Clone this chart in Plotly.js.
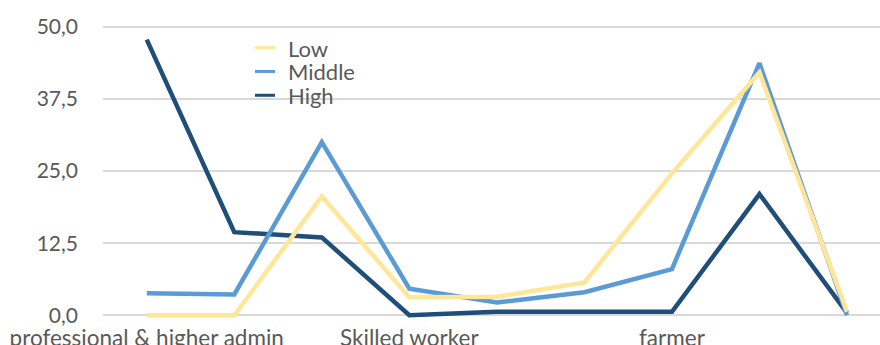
<!DOCTYPE html>
<html>
<head>
<meta charset="utf-8">
<script src="https://cdn.plot.ly/plotly-3.0.1.min.js"></script>
<style>
  html, body { margin: 0; padding: 0; background: #ffffff; }
  #chart { width: 880px; height: 345px; }
</style>
</head>
<body>
<div id="chart"></div>
<script>
// Occupational groups (only every third one carries a visible label)
const categoryIndex = [0, 1, 2, 3, 4, 5, 6, 7, 8];
const tickPositions = [0, 3, 6];
const tickLabels = ['professional & higher admin', 'Skilled worker', 'farmer'];

// Share per group (%), by level
const lowValues    = [0.0, 0.0, 20.6, 3.1, 3.2, 5.7, 24.6, 42.1, 0.6];
const middleValues = [3.8, 3.6, 30.0, 4.6, 2.2, 4.0, 8.0, 43.7, 0.0];
const highValues   = [47.8, 14.4, 13.5, 0.0, 0.6, 0.6, 0.6, 21.0, 0.4];

const yTicks = [0, 12.5, 25, 37.5, 50];

const textColor = '#595959';
const fontFamily = 'Lato, "Open Sans", sans-serif';

// Plot frame (pixels)
const W = 880, H = 345;
const M = { l: 103, r: 0, t: 24.4, b: 23.9 };
const plotW = W - M.l - M.r;
const plotH = H - M.t - M.b;
const px2x = px => (px - M.l) / plotW;          // pixel -> paper x
const px2y = py => (H - M.b - py) / plotH;       // pixel -> paper y

function series(name, values, color) {
  return {
    type: 'scatter',
    mode: 'lines',
    name: name,
    x: categoryIndex,
    y: values,
    line: { color: color, width: 4.5, shape: 'linear' },
    hoverinfo: 'name+y',
    showlegend: false
  };
}

// Drawn High first so Middle and Low sit on top
const traces = [
  series('High', highValues, '#1F4E79'),
  series('Middle', middleValues, '#5B9BD5'),
  series('Low', lowValues, '#FFE699')
];

// Compact legend: Low, Middle, High from top to bottom
const legendOrder = traces.slice().reverse();
const legendTop = 48, legendStep = 23.8;
const shapes = [{
  type: 'rect', xref: 'paper', yref: 'paper', layer: 'between',
  x0: px2x(226), x1: px2x(387), y0: px2y(32), y1: px2y(110),
  fillcolor: '#ffffff', line: { width: 0 }
}];
const annotations = [];
legendOrder.forEach((tr, i) => {
  const yc = legendTop + i * legendStep;
  shapes.push({
    type: 'line', xref: 'paper', yref: 'paper', layer: 'above',
    x0: px2x(255), x1: px2x(275), y0: px2y(yc), y1: px2y(yc),
    line: { color: tr.line.color, width: 3 }
  });
  annotations.push({
    xref: 'paper', yref: 'paper', x: px2x(286), y: px2y(yc + 0.5),
    xanchor: 'left', yanchor: 'middle', showarrow: false,
    text: tr.name, align: 'left',
    font: { family: fontFamily, size: 22, color: textColor }
  });
});

const layout = {
  width: W,
  height: H,
  paper_bgcolor: '#ffffff',
  plot_bgcolor: '#ffffff',
  separators: ',.',
  font: { family: fontFamily, size: 21, color: textColor },
  margin: { l: M.l, r: M.r, t: M.t, b: M.b, pad: 0, autoexpand: false },
  showlegend: false,
  shapes: shapes,
  annotations: annotations,
  xaxis: {
    range: [-0.5, 8.377],
    tickmode: 'array',
    tickvals: tickPositions,
    ticktext: tickLabels,
    tickangle: 0,
    automargin: false,
    showgrid: false,
    zeroline: false,
    showline: false,
    ticks: '',
    ticklabelstandoff: 1,
    tickfont: { family: fontFamily, size: 22.5, color: textColor },
    fixedrange: true
  },
  yaxis: {
    range: [-1, 50.5],
    tickmode: 'array',
    tickvals: yTicks,
    tickformat: '.1f',
    automargin: false,
    showgrid: true,
    gridcolor: '#d9d9d9',
    gridwidth: 2,
    zeroline: false,
    showline: false,
    ticks: '',
    ticklabelstandoff: 24,
    tickfont: { family: fontFamily, size: 21, color: textColor },
    fixedrange: true
  }
};

Plotly.newPlot('chart', traces, layout, { displayModeBar: false, staticPlot: true });
</script>
</body>
</html>
